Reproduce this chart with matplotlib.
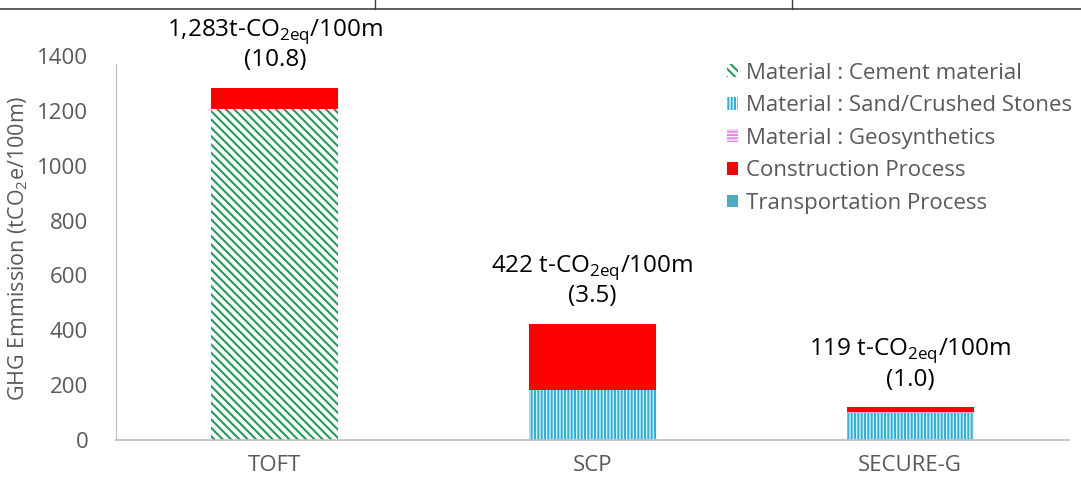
import matplotlib
matplotlib.use("Agg")
import matplotlib.pyplot as plt
from matplotlib.patches import Patch
from matplotlib.lines import Line2D
import numpy as np

plt.rcParams['font.family'] = ['Open Sans', 'DejaVu Sans']
plt.rcParams['mathtext.fontset'] = 'custom'
plt.rcParams['mathtext.rm'] = 'Open Sans'
plt.rcParams['hatch.linewidth'] = 1.5

categories = ["TOFT", "SCP", "SECURE-G"]
cement = [1205, 0, 0]
sand = [0, 181, 98]
geosynthetics = [0, 0, 5]
construction = [78, 241, 16]
transportation = [0, 0, 0]
totals_label = ["1,283t-CO$_{\\mathregular{2eq}}$/100m",
                "422 t-CO$_{\\mathregular{2eq}}$/100m",
                "119 t-CO$_{\\mathregular{2eq}}$/100m"]
ratio_label = ["(10.8)", "(3.5)", "(1.0)"]
series_names = ["Material : Cement material", "Material : Sand/Crushed Stones",
                "Material : Geosynthetics", "Construction Process", "Transportation Process"]
yticks = [0, 200, 400, 600, 800, 1000, 1200, 1400]

GREEN = '#1e9e57'
BLUE = '#2fb0e3'
PINK = '#ee82ee'
RED = '#ff0000'
TEAL = '#4bacc6'
GRAY = '#595959'

fig = plt.figure(figsize=(10.81, 4.88), dpi=100)
ax = fig.add_axes([116/1081, 48/488, (1069-116)/1081, (439-55)/488])

x = np.arange(len(categories))
w = 0.40
bottom = np.zeros(len(categories))
layers = [
    (cement, dict(facecolor='white', edgecolor=GREEN, hatch='\\\\\\\\', linewidth=0)),
    (sand, dict(facecolor='#e9f6fc', edgecolor=BLUE, hatch='|||||', linewidth=0)),
    (geosynthetics, dict(facecolor='white', edgecolor=PINK, hatch='-----', linewidth=0)),
    (construction, dict(facecolor=RED, edgecolor=RED, linewidth=0)),
    (transportation, dict(facecolor=TEAL, edgecolor=TEAL, linewidth=0)),
]
for vals, style in layers:
    v = np.array(vals, dtype=float)
    ax.bar(x, v, w, bottom=bottom, **style)
    bottom += v

for i, tot in enumerate(bottom):
    ax.annotate(ratio_label[i], (x[i], tot), xytext=(0, 20), textcoords='offset points',
                ha='center', va='center', fontsize=17.5, color='black')
    ax.annotate(totals_label[i], (x[i], tot), xytext=(0, 41), textcoords='offset points',
                ha='center', va='center', fontsize=17.5, color='black')

ax.set_xlim(-0.5, 2.5)
ax.set_ylim(0, 1400)
ax.set_yticks(yticks)
ax.set_xticks(x)
ax.set_xticklabels(categories)
ax.tick_params(axis='both', length=0, colors=GRAY, labelsize=16)
ax.tick_params(axis='x', pad=11)
ax.tick_params(axis='y', pad=20)
for s in ['top', 'right']:
    ax.spines[s].set_visible(False)
ax.spines['left'].set_color('#bfbfbf')
ax.spines['bottom'].set_color('#bfbfbf')
ax.spines['left'].set_bounds(0, 1370)
ax.spines['bottom'].set_linewidth(1.2)
ax.set_ylabel("GHG Emmission (tCO$_{\\mathregular{2}}$e/100m)", color=GRAY, fontsize=15.5, labelpad=5)

handles = [
    Patch(facecolor='white', edgecolor=GREEN, hatch='\\\\\\\\', linewidth=0),
    Patch(facecolor='white', edgecolor=BLUE, hatch='|||||', linewidth=0),
    Patch(facecolor='white', edgecolor=PINK, hatch='-----', linewidth=0),
    Patch(facecolor=RED, edgecolor=RED, linewidth=0),
    Patch(facecolor=TEAL, edgecolor=TEAL, linewidth=0),
]
leg = ax.legend(handles, series_names, loc='upper left', bbox_to_anchor=(0.62, 1.035),
                frameon=False, fontsize=16, handlelength=0.5, handleheight=0.5,
                handletextpad=0.35, labelspacing=0.52, labelcolor=GRAY)

# top table border remnants
fig.add_artist(Line2D([0, 1], [1 - 9/488, 1 - 9/488], color='#404040', lw=1.2, transform=fig.transFigure))
fig.add_artist(Line2D([375/1081, 375/1081], [1 - 9/488, 1], color='#404040', lw=1.0, transform=fig.transFigure))
fig.add_artist(Line2D([792/1081, 792/1081], [1 - 9/488, 1], color='#404040', lw=1.0, transform=fig.transFigure))

fig.savefig("out.png", dpi=100)
